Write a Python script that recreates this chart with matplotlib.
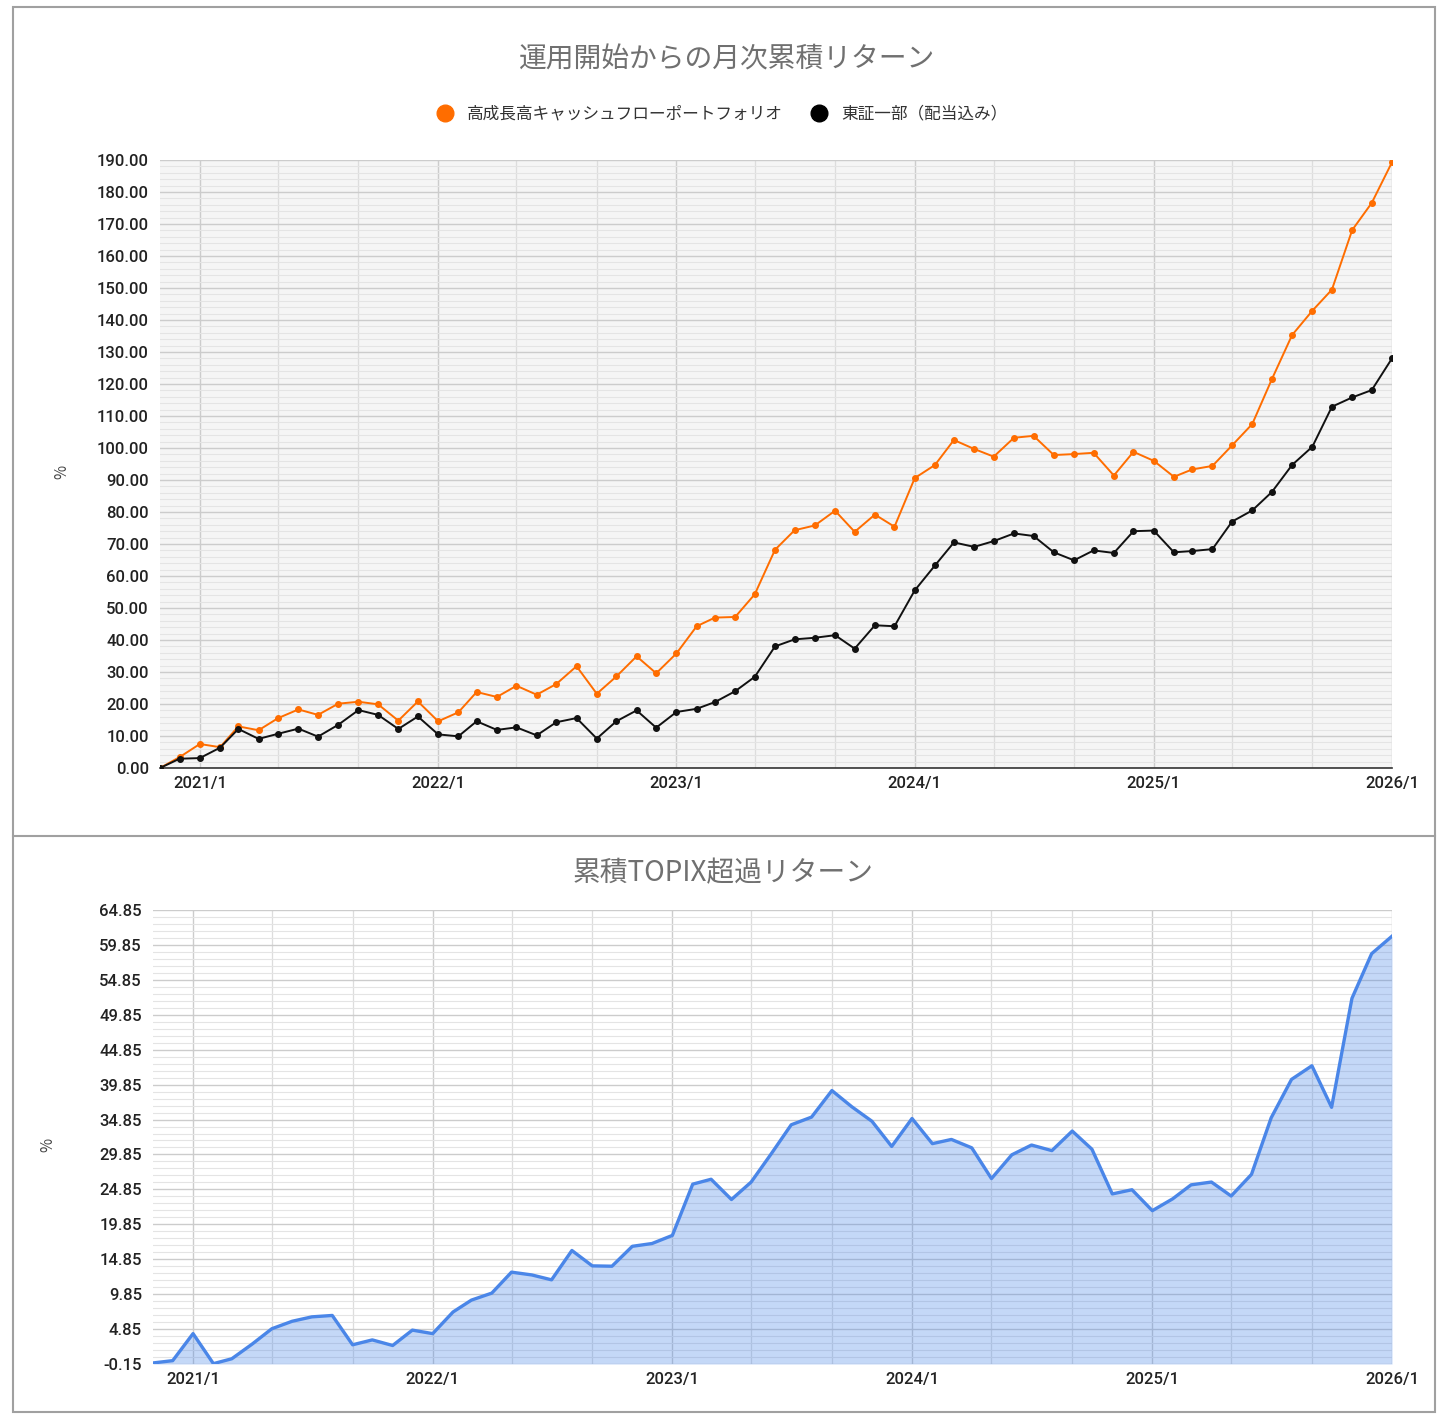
import numpy as np
import pandas as pd
import matplotlib
matplotlib.use("Agg")
import matplotlib.pyplot as plt
import matplotlib.dates as mdates
from matplotlib.lines import Line2D
from matplotlib.patches import Rectangle

plt.rcParams['font.family'] = ['Noto Sans CJK JP', 'DejaVu Sans']

# monthly points, 2020/11 .. 2026/1
months = pd.date_range('2020-11-01', periods=63, freq='MS')

portfolio = [0, 3.4, 7.5, 6.5, 13.0, 11.8, 15.6, 18.3, 16.6, 20.1, 20.7, 19.9, 14.8,
             20.8, 14.6, 17.4, 23.75, 22.2, 25.7, 22.9, 26.25, 31.8, 23.2, 28.6, 34.9,
             29.6, 35.8, 44.3, 47.0, 47.2, 54.3, 68.2, 74.3, 75.8, 80.4, 73.8, 79.2,
             75.4, 90.6, 94.7, 102.5, 99.7, 97.3, 103.2, 103.8, 97.8, 98.1, 98.5, 91.4,
             98.8, 96.0, 91.0, 93.3, 94.4, 100.8, 107.5, 121.5, 135.3, 142.9, 149.5,
             168.1, 176.6, 189.3]

topix = [0, 2.9, 3.1, 6.35, 12.2, 9.1, 10.7, 12.3, 9.8, 13.5, 18.1, 16.6, 12.2,
         16.1, 10.5, 9.9, 14.6, 11.9, 12.7, 10.2, 14.3, 15.6, 9.2, 14.6, 18.0,
         12.6, 17.5, 18.5, 20.6, 24.0, 28.5, 38.0, 40.2, 40.7, 41.5, 37.3, 44.6,
         44.3, 55.5, 63.3, 70.5, 69.1, 70.9, 73.3, 72.5, 67.4, 64.9, 68.0, 67.2,
         74.0, 74.2, 67.4, 67.8, 68.4, 77.0, 80.5, 86.25, 94.7, 100.4, 112.9,
         115.8, 118.1, 128.0]

excess = [0.0, 0.33, 4.2, -0.1, 0.6, 2.7, 4.9, 5.97, 6.6, 6.8, 2.6, 3.3, 2.5,
          4.7, 4.2, 7.3, 9.0, 10.0, 13.0, 12.6, 11.9, 16.1, 13.9, 13.85, 16.7,
          17.1, 18.26, 25.6, 26.3, 23.4, 25.9, 30.0, 34.1, 35.2, 39.0, 36.7, 34.6,
          31.0, 35.0, 31.4, 32.0, 30.8, 26.4, 29.8, 31.2, 30.4, 33.2, 30.6, 24.2,
          24.8, 21.8, 23.5, 25.5, 25.9, 23.9, 27.0, 35.1, 40.6, 42.55, 36.6,
          52.2, 58.6, 61.1]

top_title = "運用開始からの月次累積リターン"
bottom_title = "累積TOPIX超過リターン"
series_names = ["高成長高キャッシュフローポートフォリオ", "東証一部（配当込み）"]

ORANGE = "#ff6d00"
BLUE = "#4a86e8"
NUM_FONT = "Roboto"

W, H = 1448, 1425
fig = plt.figure(figsize=(W / 100, H / 100), dpi=100)


def fx(px):
    return px / W


def fy(py):
    return 1 - py / H


def style_axes(ax, yticks, minor_step):
    ax.set_xlim(months[0], months[-1])
    ax.xaxis.set_major_locator(mdates.MonthLocator(bymonth=1))
    ax.xaxis.set_minor_locator(mdates.MonthLocator(bymonth=[5, 9]))
    ax.xaxis.set_major_formatter(mdates.DateFormatter('%Y/%-m'))
    ax.set_yticks(yticks)
    ax.set_yticks(np.arange(yticks[0], yticks[-1] + 0.01, minor_step), minor=True)
    ax.set_yticklabels(["%.2f" % v for v in yticks])
    ax.grid(which='major', axis='both', color='#cccccc', lw=1.0, zorder=0)
    ax.grid(which='minor', axis='y', color='#e4e4e4', lw=0.8, zorder=0)
    ax.grid(which='minor', axis='x', color='#dddddd', lw=0.9, zorder=0)
    ax.set_axisbelow(True)
    for s in ['top', 'right', 'left']:
        ax.spines[s].set_visible(False)
    ax.tick_params(which='both', length=0)
    ax.tick_params(axis='y', pad=8)
    ax.tick_params(axis='x', pad=6)
    for lab in ax.get_xticklabels() + ax.get_yticklabels():
        lab.set_fontfamily(NUM_FONT)
        lab.set_fontweight('medium')
        lab.set_fontsize(12)
        lab.set_color('#222222')


# ---- top chart: cumulative returns
ax1 = fig.add_axes([fx(160), fy(768), fx(1392) - fx(160), fy(160) - fy(768)])
ax1.set_facecolor('#f5f5f5')
ax1.plot(months, portfolio, color=ORANGE, lw=1.4, marker='o', ms=4, zorder=3)
ax1.plot(months, topix, color='#111111', lw=1.4, marker='o', ms=4, zorder=3)
ax1.set_ylim(0, 190)
style_axes(ax1, np.arange(0, 191, 10), 2)
ax1.spines['bottom'].set_color('#333333')
ax1.spines['bottom'].set_linewidth(1.2)

fig.text(fx(727), fy(60), top_title, ha='center', va='center', fontsize=20, color='#707070')
handles = [Line2D([], [], ls='', marker='o', ms=12, color=ORANGE),
           Line2D([], [], ls='', marker='o', ms=12, color='#000000')]
fig.legend(handles, series_names, loc='center', bbox_to_anchor=(fx(718), fy(114)),
           ncol=2, frameon=False, fontsize=12, handletextpad=0.3, columnspacing=1.2,
           labelcolor='#333333')
fig.text(fx(62), fy(472), "%", rotation=90, ha='center', va='center', fontsize=11, color='#444444')

# ---- bottom chart: cumulative excess return
ax2 = fig.add_axes([fx(153), fy(1364), fx(1392) - fx(153), fy(910) - fy(1364)])
ax2.fill_between(months, excess, -0.15, color=BLUE, alpha=0.32, lw=0, zorder=2)
ax2.plot(months, excess, color=BLUE, lw=2.4, zorder=3)
ax2.set_ylim(-0.15, 64.85)
style_axes(ax2, np.arange(-0.15, 64.9, 5), 1)
ax2.spines['bottom'].set_visible(False)

fig.text(fx(723), fy(873), bottom_title, ha='center', va='center', fontsize=20, color='#707070')
fig.text(fx(48), fy(1145), "%", rotation=90, ha='center', va='center', fontsize=11, color='#444444')

# panel frames
fig.add_artist(Rectangle((fx(13), fy(1412)), fx(1435) - fx(13), fy(7) - fy(1412),
                         transform=fig.transFigure, fill=False, ec='#a0a0a0', lw=1.5))
fig.add_artist(Line2D([fx(13), fx(1435)], [fy(836), fy(836)], transform=fig.transFigure,
                      color='#a0a0a0', lw=1.5))

fig.savefig("out.png", dpi=100, facecolor='white')
